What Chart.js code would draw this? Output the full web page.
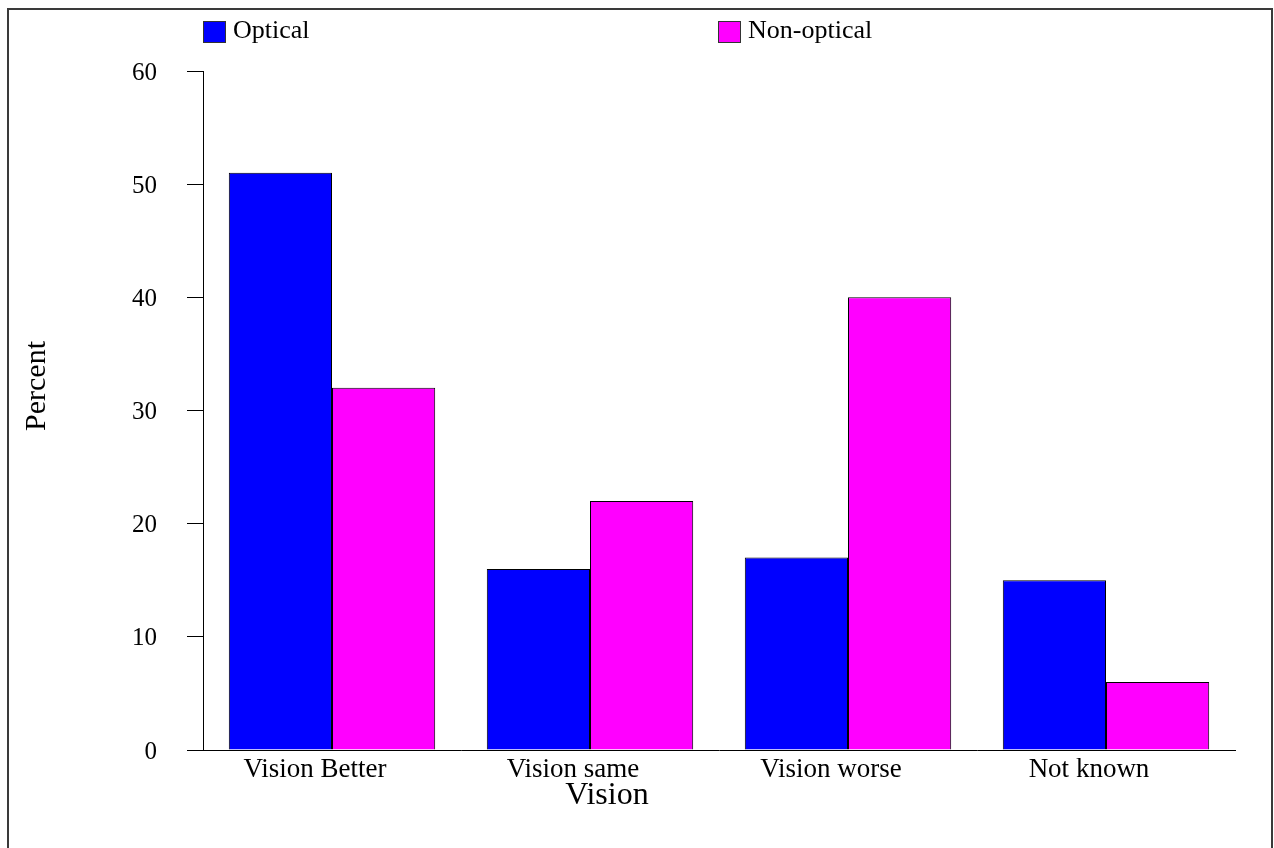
<!DOCTYPE html>
<html>
<head>
<meta charset="utf-8">
<script src="https://cdn.jsdelivr.net/npm/chart.js@4"></script>
<style>
  html, body { margin: 0; padding: 0; background: #fff; overflow: hidden; }
  #frame { position: absolute; left: 7px; top: 8px; width: 1262px; height: 900px; border: 2px solid #3a3a3a; }
  #wrap { position: absolute; left: 0; top: 0; width: 1274px; height: 848px; }
</style>
</head>
<body>
<div id="frame"></div>
<div id="wrap"><canvas id="myChart"></canvas></div>
<script>
const categories = ['Vision Better', 'Vision same', 'Vision worse', 'Not known'];
const seriesNames = ['Optical', 'Non-optical'];
const opticalValues = [51, 16, 17, 15];
const nonOpticalValues = [32, 22, 40, 6];
const seriesColors = ['#0000ff', '#ff00ff'];
const xTitle = 'Vision';
const yTitle = 'Percent';

const serif = '"Liberation Serif", "Times New Roman", serif';

// legend + axis titles, placed off-centre like the original
const extras = {
  id: 'extras',
  afterDraw(chart) {
    const c = chart.ctx;
    const xs = [203, 718];
    c.save();
    c.font = '26px ' + serif;
    c.textBaseline = 'alphabetic';
    chart.data.datasets.forEach((ds, i) => {
      const x = xs[i];
      c.fillStyle = ds.backgroundColor;
      c.fillRect(x, 21, 23, 22);
      c.strokeStyle = '#333';
      c.lineWidth = 1;
      c.strokeRect(x + 0.5, 21.5, 22, 21);
      c.fillStyle = '#000';
      c.fillText(ds.label, x + 30, 38);
    });

    c.fillStyle = '#000';
    c.textAlign = 'center';
    c.font = '32px ' + serif;
    c.fillText(xTitle, 607, 804);

    c.translate(45, 386);
    c.rotate(-Math.PI / 2);
    c.font = '30px ' + serif;
    c.fillText(yTitle, 0, 0);
    c.restore();
  }
};

const ctx = document.getElementById('myChart').getContext('2d');
const myChart = new Chart(ctx, {
  type: 'bar',
  data: {
    labels: categories,
    datasets: [{
      label: seriesNames[0],
      data: opticalValues,
      backgroundColor: seriesColors[0],
      borderColor: '#000',
      borderWidth: 1
    }, {
      label: seriesNames[1],
      data: nonOpticalValues,
      backgroundColor: seriesColors[1],
      borderColor: '#000',
      borderWidth: 1
    }]
  },
  options: {
    responsive: true,
    maintainAspectRatio: false,
    animation: false,
    layout: { padding: { top: 71, right: 39, left: 0, bottom: 0 } },
    datasets: { bar: { categoryPercentage: 0.8, barPercentage: 1.0 } },
    plugins: { legend: { display: false }, tooltip: { enabled: false } },
    scales: {
      x: {
        grid: { display: false },
        border: { display: true, color: '#000', width: 1 },
        ticks: { color: '#000', font: { family: serif, size: 27 }, padding: -4, labelOffset: -17, maxRotation: 0 },
        afterFit(scale) { scale.height = 98; }
      },
      y: {
        min: 0,
        max: 60,
        grid: { drawOnChartArea: false, drawTicks: true, tickLength: 16, color: '#000' },
        border: { display: true, color: '#000', width: 1 },
        ticks: { stepSize: 10, color: '#000', font: { family: serif, size: 25 }, padding: 30, labelOffset: 2 },
        afterFit(scale) { scale.width = 203; }
      }
    }
  },
  plugins: [extras]
});
</script>
</body>
</html>
